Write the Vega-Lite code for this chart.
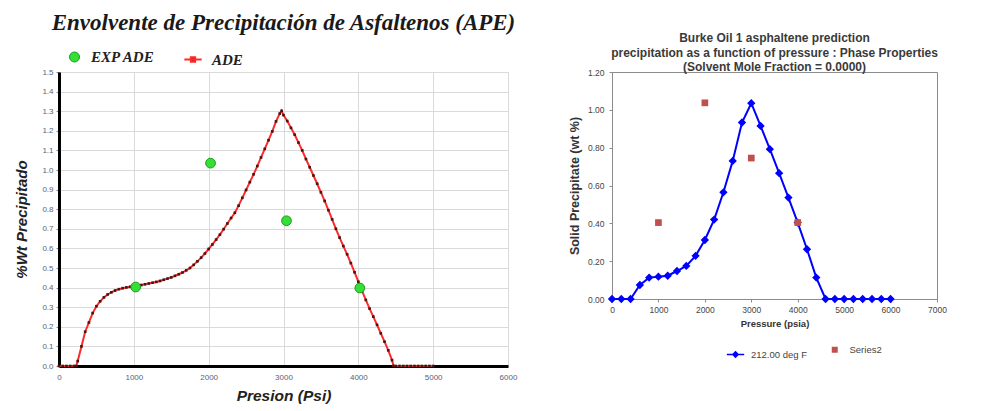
{
  "$schema": "https://vega.github.io/schema/vega-lite/v6.json",
  "background": "white",
  "padding": {"left": 14, "top": 12, "right": 0, "bottom": 0},
  "datasets": {
    "ade": [
      {"p": 0, "w": 0}, {"p": 50, "w": 0}, {"p": 100, "w": 0}, {"p": 150, "w": 0}, {"p": 200, "w": 0}, {"p": 230, "w": 0},
      {"p": 250, "w": 0.025}, {"p": 300, "w": 0.1}, {"p": 350, "w": 0.175}, {"p": 400, "w": 0.222}, {"p": 450, "w": 0.27},
      {"p": 500, "w": 0.305}, {"p": 550, "w": 0.33}, {"p": 600, "w": 0.35}, {"p": 650, "w": 0.365}, {"p": 700, "w": 0.376},
      {"p": 750, "w": 0.385}, {"p": 800, "w": 0.392}, {"p": 850, "w": 0.397}, {"p": 900, "w": 0.401}, {"p": 950, "w": 0.404},
      {"p": 1000, "w": 0.407}, {"p": 1050, "w": 0.41}, {"p": 1100, "w": 0.413}, {"p": 1150, "w": 0.417}, {"p": 1200, "w": 0.421},
      {"p": 1250, "w": 0.425}, {"p": 1300, "w": 0.429}, {"p": 1350, "w": 0.434}, {"p": 1400, "w": 0.44}, {"p": 1450, "w": 0.446},
      {"p": 1500, "w": 0.452}, {"p": 1550, "w": 0.46}, {"p": 1600, "w": 0.468}, {"p": 1650, "w": 0.477}, {"p": 1700, "w": 0.488},
      {"p": 1750, "w": 0.5}, {"p": 1800, "w": 0.516}, {"p": 1850, "w": 0.534}, {"p": 1900, "w": 0.553}, {"p": 1950, "w": 0.574},
      {"p": 2000, "w": 0.597}, {"p": 2050, "w": 0.62}, {"p": 2100, "w": 0.645}, {"p": 2150, "w": 0.67}, {"p": 2200, "w": 0.698},
      {"p": 2250, "w": 0.727}, {"p": 2300, "w": 0.755}, {"p": 2350, "w": 0.782}, {"p": 2400, "w": 0.818}, {"p": 2450, "w": 0.858},
      {"p": 2500, "w": 0.898}, {"p": 2550, "w": 0.938}, {"p": 2600, "w": 0.978}, {"p": 2650, "w": 1.02}, {"p": 2700, "w": 1.064},
      {"p": 2750, "w": 1.108}, {"p": 2800, "w": 1.152}, {"p": 2850, "w": 1.197}, {"p": 2900, "w": 1.248}, {"p": 2950, "w": 1.288},
      {"p": 2975, "w": 1.302}, {"p": 3000, "w": 1.28}, {"p": 3050, "w": 1.25}, {"p": 3100, "w": 1.215}, {"p": 3150, "w": 1.18},
      {"p": 3200, "w": 1.14}, {"p": 3250, "w": 1.1}, {"p": 3300, "w": 1.056}, {"p": 3350, "w": 1.014}, {"p": 3400, "w": 0.972},
      {"p": 3450, "w": 0.93}, {"p": 3500, "w": 0.886}, {"p": 3550, "w": 0.842}, {"p": 3600, "w": 0.795}, {"p": 3650, "w": 0.748},
      {"p": 3700, "w": 0.7}, {"p": 3750, "w": 0.655}, {"p": 3800, "w": 0.612}, {"p": 3850, "w": 0.57}, {"p": 3900, "w": 0.525},
      {"p": 3950, "w": 0.478}, {"p": 4000, "w": 0.43}, {"p": 4050, "w": 0.382}, {"p": 4100, "w": 0.337}, {"p": 4150, "w": 0.293},
      {"p": 4200, "w": 0.252}, {"p": 4250, "w": 0.21}, {"p": 4300, "w": 0.167}, {"p": 4350, "w": 0.124}, {"p": 4400, "w": 0.08},
      {"p": 4450, "w": 0.03}, {"p": 4470, "w": 0}, {"p": 4500, "w": 0}, {"p": 4550, "w": 0}, {"p": 4600, "w": 0},
      {"p": 4650, "w": 0}, {"p": 4700, "w": 0}, {"p": 4750, "w": 0}, {"p": 4800, "w": 0}, {"p": 4850, "w": 0},
      {"p": 4900, "w": 0}, {"p": 4950, "w": 0}, {"p": 5000, "w": 0}
    ],
    "exp": [
      {"p": 1025, "w": 0.403, "serie": "EXP ADE"},
      {"p": 2025, "w": 1.035, "serie": "EXP ADE"},
      {"p": 3040, "w": 0.741, "serie": "EXP ADE"},
      {"p": 4020, "w": 0.398, "serie": "EXP ADE"}
    ],
    "burke": [
      {"p": 0, "w": 0}, {"p": 200, "w": 0}, {"p": 400, "w": 0}, {"p": 600, "w": 0.074}, {"p": 800, "w": 0.113},
      {"p": 1000, "w": 0.118}, {"p": 1200, "w": 0.123}, {"p": 1400, "w": 0.148}, {"p": 1600, "w": 0.175}, {"p": 1800, "w": 0.228},
      {"p": 2000, "w": 0.312}, {"p": 2200, "w": 0.42}, {"p": 2400, "w": 0.564}, {"p": 2600, "w": 0.73}, {"p": 2800, "w": 0.933},
      {"p": 3000, "w": 1.035}, {"p": 3200, "w": 0.915}, {"p": 3400, "w": 0.792}, {"p": 3600, "w": 0.665}, {"p": 3800, "w": 0.536},
      {"p": 4000, "w": 0.404}, {"p": 4200, "w": 0.263}, {"p": 4400, "w": 0.113}, {"p": 4600, "w": 0}, {"p": 4800, "w": 0},
      {"p": 5000, "w": 0}, {"p": 5200, "w": 0}, {"p": 5400, "w": 0}, {"p": 5600, "w": 0}, {"p": 5800, "w": 0}, {"p": 6000, "w": 0}
    ],
    "series2": [
      {"p": 1000, "w": 0.404, "serie": "Series2"},
      {"p": 2000, "w": 1.037, "serie": "Series2"},
      {"p": 3000, "w": 0.745, "serie": "Series2"},
      {"p": 4000, "w": 0.404, "serie": "Series2"}
    ]
  },
  "hconcat": [
    {
      "width": 449,
      "height": 294,
      "view": {"stroke": null},
      "title": {
        "text": "Envolvente de Precipitación de Asfaltenos (APE)",
        "font": "Liberation Serif",
        "fontSize": 23,
        "fontWeight": "bold",
        "fontStyle": "italic",
        "color": "#1a1a1a",
        "anchor": "middle",
        "offset": 14.5
      },
      "encoding": {
        "x": {
          "field": "p", "type": "quantitative",
          "scale": {"domain": [0, 6000], "nice": false},
          "axis": {
            "title": "Presion (Psi)",
            "values": [0, 1000, 2000, 3000, 4000, 5000, 6000],
            "format": "d",
            "grid": true, "gridColor": "#dadada", "gridWidth": 1,
            "domainColor": "#000000", "domainWidth": 3,
            "ticks": false, "labelPadding": 7,
            "labelFont": "Liberation Sans", "labelFontSize": 8, "labelColor": "#5a6275",
            "titleFont": "Liberation Sans", "titleFontSize": 15.5, "titleFontWeight": "bold", "titleFontStyle": "italic",
            "titleColor": "#222222", "titlePadding": 7
          }
        },
        "y": {
          "field": "w", "type": "quantitative",
          "scale": {"domain": [0, 1.5], "nice": false},
          "axis": {
            "title": "%Wt Precipitado",
            "values": [0, 0.1, 0.2, 0.3, 0.4, 0.5, 0.6, 0.7, 0.8, 0.9, 1.0, 1.1, 1.2, 1.3, 1.4, 1.5],
            "format": ".1f",
            "labelOverlap": false,
            "grid": true, "gridColor": "#dadada", "gridWidth": 1,
            "domainColor": "#000000", "domainWidth": 3,
            "ticks": true, "tickSize": 3, "tickColor": "#888888", "labelPadding": 3,
            "labelFont": "Liberation Sans", "labelFontSize": 8, "labelColor": "#5a6275",
            "titleFont": "Liberation Sans", "titleFontSize": 15, "titleFontWeight": "bold", "titleFontStyle": "italic",
            "titleColor": "#222222", "titlePadding": 12
          }
        }
      },
      "layer": [
        {
          "data": {"name": "ade"},
          "transform": [{"calculate": "'ADE'", "as": "serie"}],
          "mark": {"type": "line", "strokeWidth": 2},
          "encoding": {
            "stroke": {
              "field": "serie", "type": "nominal",
              "scale": {"domain": ["ADE"], "range": ["#ff2a2a"]},
              "legend": {
                "title": null, "orient": "none", "legendX": 124, "legendY": -22.5,
                "symbolType": "M-1,0H1M-0.25,-0.25H0.25V0.25H-0.25Z", "symbolSize": 300, "symbolStrokeWidth": 2,
                "symbolFillColor": "#5a1010",
                "labelFont": "Liberation Serif", "labelFontSize": 15, "labelFontWeight": "bold", "labelFontStyle": "italic",
                "labelColor": "#222222", "labelOffset": 9
              }
            }
          }
        },
        {
          "data": {"name": "ade"},
          "mark": {"type": "point", "shape": "square", "filled": true, "size": 7, "color": "#4a1414", "opacity": 1}
        },
        {
          "data": {"name": "exp"},
          "mark": {"type": "circle", "size": 95, "stroke": "#1e9a1e", "strokeWidth": 1, "opacity": 1},
          "encoding": {
            "fill": {
              "field": "serie", "type": "nominal",
              "scale": {"domain": ["EXP ADE"], "range": ["#33e033"]},
              "legend": {
                "title": null, "orient": "none", "legendX": 8, "legendY": -22.5,
                "symbolType": "circle", "symbolSize": 100, "symbolStrokeColor": "#1e9a1e", "symbolStrokeWidth": 1,
                "labelFont": "Liberation Serif", "labelFontSize": 15, "labelFontWeight": "bold", "labelFontStyle": "italic",
                "labelColor": "#222222", "labelOffset": 9
              }
            }
          }
        }
      ]
    },
    {
      "width": 325,
      "height": 227,
      "view": {"stroke": "#8c8c8c", "strokeWidth": 1},
      "title": {
        "text": ["Burke Oil 1 asphaltene prediction", "precipitation as a function  of pressure  : Phase Properties", "(Solvent Mole Fraction = 0.0000)"],
        "font": "Liberation Sans",
        "fontSize": 12,
        "fontWeight": "bold",
        "color": "#3a3a3a",
        "lineHeight": 14.5,
        "anchor": "middle",
        "offset": -6
      },
      "encoding": {
        "x": {
          "field": "p", "type": "quantitative",
          "scale": {"domain": [0, 7000], "nice": false},
          "axis": {
            "title": "Pressure (psia)",
            "values": [0, 1000, 2000, 3000, 4000, 5000, 6000, 7000],
            "format": "d",
            "grid": false, "domainColor": "#8c8c8c", "tickColor": "#8c8c8c", "tickSize": 3,
            "labelFont": "Liberation Sans", "labelFontSize": 8.5, "labelColor": "#444444", "labelPadding": 3,
            "titleFont": "Liberation Sans", "titleFontSize": 9.5, "titleFontWeight": "bold", "titleColor": "#333333", "titlePadding": 5
          }
        },
        "y": {
          "field": "w", "type": "quantitative",
          "scale": {"domain": [0, 1.2], "nice": false},
          "axis": {
            "title": "Solid Precipitate (wt %)",
            "values": [0, 0.2, 0.4, 0.6, 0.8, 1.0, 1.2],
            "format": ".2f",
            "labelOverlap": false,
            "grid": false, "domainColor": "#8c8c8c", "tickColor": "#8c8c8c", "tickSize": 3,
            "labelFont": "Liberation Sans", "labelFontSize": 8.5, "labelColor": "#444444", "labelPadding": 5,
            "titleFont": "Liberation Sans", "titleFontSize": 12.5, "titleFontWeight": "bold", "titleColor": "#333333", "titlePadding": 6
          }
        }
      },
      "layer": [
        {
          "data": {"name": "burke"},
          "transform": [{"calculate": "'212.00 deg F'", "as": "serie"}],
          "mark": {"type": "line", "strokeWidth": 2, "point": {"shape": "diamond", "filled": true, "size": 30, "color": "#0000ff"}},
          "encoding": {
            "stroke": {
              "field": "serie", "type": "nominal",
              "scale": {"domain": ["212.00 deg F"], "range": ["#0000ff"]},
              "legend": {
                "title": null, "orient": "none", "legendX": 114, "legendY": 273,
                "symbolType": "M-1,0H1M0,-0.3L0.3,0L0,0.3L-0.3,0Z", "symbolSize": 300, "symbolStrokeWidth": 1.5,
                "symbolFillColor": "#0000ff",
                "labelFont": "Liberation Sans", "labelFontSize": 9.5, "labelColor": "#444444", "labelOffset": 6
              }
            }
          }
        },
        {
          "data": {"name": "series2"},
          "mark": {"type": "square", "size": 45, "opacity": 1},
          "encoding": {
            "fill": {
              "field": "serie", "type": "nominal",
              "scale": {"domain": ["Series2"], "range": ["#c0504d"]},
              "legend": {
                "title": null, "orient": "none", "legendX": 218, "legendY": 273,
                "symbolType": "square", "symbolSize": 36,
                "labelFont": "Liberation Sans", "labelFontSize": 9.5, "labelColor": "#444444", "labelOffset": 10
              }
            }
          }
        }
      ]
    }
  ],
  "spacing": 104,
  "bounds": "flush",
  "resolve": {
    "scale": {"x": "independent", "y": "independent", "fill": "independent", "stroke": "independent"},
    "legend": {"fill": "independent", "stroke": "independent"}
  },
  "config": {
    "view": {"stroke": null},
    "axis": {"labelFlush": false}
  }
}
